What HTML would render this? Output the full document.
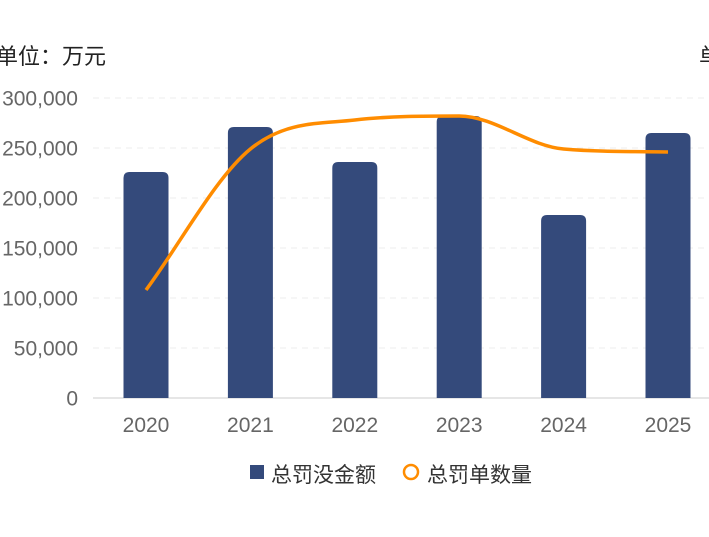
<!DOCTYPE html>
<html><head><meta charset="utf-8"><style>
body{margin:0;background:#fff;width:709px;height:532px;overflow:hidden}
svg text{font-family:"Liberation Sans","Noto Sans CJK SC",sans-serif}
</style></head><body>
<svg id="chart" width="709" height="532" xmlns="http://www.w3.org/2000/svg">
<text x="-4" y="64" font-size="22" fill="#222">单位：万元</text>
<text x="699" y="64" font-size="22" fill="#222">单位</text>
<g id="grid"></g><g id="bars"></g><g id="line"></g><g id="xlabels"></g>
<g>
<rect x="250" y="465" width="14" height="14" fill="#344a7b"/>
<text x="271" y="482" font-size="21" fill="#333">总罚没金额</text>
<circle cx="411" cy="472" r="7" fill="none" stroke="#ff8c00" stroke-width="2.5"/>
<text x="427" y="482" font-size="21" fill="#333">总罚单数量</text>
</g>
</svg>
<script>
const categories=["2020","2021","2022","2023","2024","2025"];
const amountValues=[226000,271000,236000,282000,183000,265000];
const countValues=[1080,2490,2780,2820,2490,2460];
const yTicks=[0,50000,100000,150000,200000,250000,300000];
const NS="http://www.w3.org/2000/svg";
const y0=398,yTop=98,x0=146,dx=104.4;
const yL=v=>y0-(v/300000)*(y0-yTop);
const yR=v=>y0-(v/3000)*(y0-yTop);
const xC=i=>x0+i*dx;
function mk(t,a,p){const e=document.createElementNS(NS,t);for(const k in a)e.setAttribute(k,a[k]);p.appendChild(e);return e;}
const grid=document.getElementById('grid');
yTicks.forEach((v,i)=>{
 if(v>0){const l=mk('line',{x1:93,x2:709,y1:yL(v),y2:yL(v),stroke:'#eee','stroke-dasharray':'6,5'},grid);
 
 }
 const t=mk('text',{x:78,y:yL(v)+7.5,'text-anchor':'end','font-size':21,fill:'#666'},grid);
 t.textContent=v.toLocaleString('en-US');
 
 
});
const ax=mk('line',{x1:93,x2:709,y1:y0,y2:y0,stroke:'#ddd','stroke-width':1.5},grid);


const bars=document.getElementById('bars'),xl=document.getElementById('xlabels');
amountValues.forEach((v,i)=>{
 const w=45,x=xC(i)-w/2,y=yL(v),r=6;
 const p=mk('path',{d:`M${x},${y0}V${y+r}Q${x},${y} ${x+r},${y}H${x+w-r}Q${x+w},${y} ${x+w},${y+r}V${y0}Z`,fill:'#344a7b'},bars);
 
 
 const t=mk('text',{x:xC(i),y:432,'text-anchor':'middle','font-size':21,fill:'#666'},xl);
 t.textContent=categories[i];
 
 
});
// monotone cubic interpolation
const pts=countValues.map((v,i)=>[xC(i),yR(v)]);
const n=pts.length,sl=[],m=[];
for(let i=0;i<n-1;i++)sl.push((pts[i+1][1]-pts[i][1])/(pts[i+1][0]-pts[i][0]));
m[0]=sl[0];m[n-1]=sl[n-2];
for(let i=1;i<n-1;i++){m[i]=(sl[i-1]*sl[i]<=0)?0:(sl[i-1]+sl[i])/2;}
for(let i=0;i<n-1;i++){if(sl[i]===0){m[i]=0;m[i+1]=0;continue;}
 const a=m[i]/sl[i],b=m[i+1]/sl[i],h=a*a+b*b;if(h>9){const t=3/Math.sqrt(h);m[i]=t*a*sl[i];m[i+1]=t*b*sl[i];}}
let d=`M${pts[0][0]},${pts[0][1]}`;
for(let i=0;i<n-1;i++){const h=(pts[i+1][0]-pts[i][0])/3;
 d+=`C${pts[i][0]+h},${pts[i][1]+m[i]*h} ${pts[i+1][0]-h},${pts[i+1][1]-m[i+1]*h} ${pts[i+1][0]},${pts[i+1][1]}`;}
const ln=mk('path',{d:d,fill:'none',stroke:'#ff8c00','stroke-width':3.5},document.getElementById('line'));


</script>
</body></html>
